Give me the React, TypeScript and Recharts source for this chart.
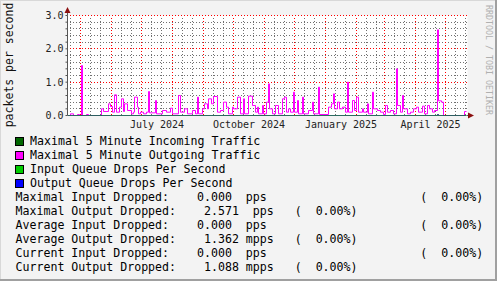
import { LineChart, Line, XAxis, YAxis, CartesianGrid } from 'recharts'

const mono = "'DejaVu Sans Mono', monospace"

// x axis is in days since 18 Apr 2024 (1 px per day on the original)
const monthStartDays = [13, 44, 74, 105, 136, 166, 197, 227, 258, 289, 317, 348, 378]
const minorDays = [3, 23, 33, 54, 64, 84, 94, 115, 125, 146, 156, 176, 186, 207, 217, 237, 247, 268, 278, 299, 309, 327, 337, 358, 368, 388, 398]
const labelDays = [89.5, 181.5, 273.5, 363]
const labelText = ['July 2024', 'October 2024', 'January 2025', 'April 2025']

const yTicks = [0, 0.2, 0.4, 0.6, 0.8, 1, 1.2, 1.4, 1.6, 1.8, 2, 2.2, 2.4, 2.6, 2.8, 3]
const yMinor = [0.2, 0.4, 0.6, 0.8, 1.2, 1.4, 1.6, 1.8, 2.2, 2.4, 2.6, 2.8]
const yMajor = [1, 2, 3]

// maximal 5 minute outgoing traffic, as step levels (day where a level starts, level)
const outDays = [
  0, 3, 6, 10, 12, 14, 15, 19, 21, 34, 36, 41, 43, 45, 47, 49, 52, 54, 56, 57,
  60, 64, 66, 67, 70, 71, 73, 76, 79, 81, 82, 88, 89, 95, 99, 103, 105, 111, 113, 117,
  120, 125, 128, 130, 131, 135, 137, 140, 141, 144, 146, 150, 153, 156, 159, 161, 165, 166, 170, 173,
  176, 177, 181, 185, 188, 190, 191, 195, 196, 199, 201, 202, 205, 208, 211, 215, 217, 219, 221, 223,
  226, 227, 230, 231, 235, 236, 241, 245, 246, 251, 252, 261, 264, 266, 267, 270, 272, 275, 278, 280,
  281, 285, 287, 289, 291, 295, 296, 300, 301, 305, 306, 310, 313, 316, 318, 320, 323, 326, 329, 330,
  333, 335, 336, 340, 343, 346, 349, 351, 355, 357, 360, 362, 365, 367, 370, 371, 374, 376, 397, 399
]
const outPps = [
  0, 0.05, 0, 0.03, 0, 1.5, 0, 0.03, 0, 0.2, 0.12, 0.35, 0.27, 0.1, 0.62, 0.1, 0.25, 0.5, 0.12, 0.35,
  0.15, 0.05, 0.1, 0.55, 0.25, 0.05, 0.1, 0.05, 0.1, 0.72, 0.08, 0.45, 0.05, 0.15, 0.1, 0.22, 0.05, 0.6, 0.1, 0.2,
  0.05, 0.15, 0.05, 0.55, 0.05, 0.2, 0.35, 0.2, 0.5, 0.35, 0.57, 0.1, 0.15, 0.4, 0.25, 0.05, 0.25, 0.2, 0.55, 0.05,
  0.5, 0.05, 0.58, 0.3, 0.1, 0.25, 0.05, 0.3, 0.05, 0.4, 0.95, 0.2, 0.05, 0.3, 0.05, 0.5, 0.55, 0.1, 0.2, 0.1,
  0.7, 0.1, 0.45, 0.05, 0.55, 0.05, 0.15, 0.4, 0.05, 0.85, 0.03, 0.25, 0.35, 0.65, 0.2, 0.4, 0.2, 0.25, 0.1, 1.0,
  0.1, 0.45, 0.15, 0.55, 0.1, 0.2, 0.1, 0.35, 0.05, 0.7, 0.2, 0.15, 0.1, 0.03, 0.3, 0.1, 0.15, 0.05, 1.4, 0.3,
  0.1, 0.6, 0.2, 0.05, 0.1, 0.2, 0.25, 0.1, 0.28, 0.05, 0.3, 0.2, 0.1, 0.15, 2.571, 0.44, 0.4, 0, 0.12, 0.12
]

// incoming traffic and queue drops sit on zero
const inDays = [0, 399]
const inPps = [0, 0]
const inDropDays = [0, 399]
const inDrops = [0, 0]
const outDropDays = [0, 370, 371, 399]
const outDrops = [0, 0.03, 0, 0]

const legendItems = [
  { color: '#006600', text: 'Maximal 5 Minute Incoming Traffic' },
  { color: '#ff00ff', text: 'Maximal 5 Minute Outgoing Traffic' },
  { color: '#00cc00', text: 'Input Queue Drops Per Second' },
  { color: '#0000ff', text: 'Output Queue Drops Per Second' }
]

const statLines = [
  'Maximal Input Dropped:    0.000  pps                      (  0.00%)',
  'Maximal Output Dropped:    2.571  pps   (  0.00%)',
  'Average Input Dropped:    0.000  pps                      (  0.00%)',
  'Average Output Dropped:    1.362 mpps   (  0.00%)',
  'Current Input Dropped:    0.000  pps                      (  0.00%)',
  'Current Output Dropped:    1.088 mpps   (  0.00%)'
]

const toPoints = (days: number[], vals: number[]) => days.map((day, i) => ({ day, v: vals[i] }))

export default function App() {
  return (
    <div
      style={{
        position: 'absolute',
        left: 0,
        top: 0,
        width: 497,
        height: 281,
        background: '#f3f3f3',
        boxShadow: 'inset -2px -2px 0 #a0a0a0, inset 1px 1px 0 #d8d8d8',
        fontFamily: mono,
        overflow: 'hidden'
      }}
    >
      <div style={{ position: 'absolute', left: 0, top: 0 }}>
        {/* half pixel offsets keep the 1px lines crisp */}
        <LineChart width={497} height={135} margin={{ top: 15.5, right: 29.5, bottom: 0, left: 37.5 }}>
          <CartesianGrid
            fill="#ffffff"
            stroke="#707070"
            strokeDasharray="1 2"
            strokeDashoffset={0.5}
            horizontalValues={yMinor}
            verticalValues={minorDays}
            shapeRendering="crispEdges"
          />
          <CartesianGrid
            stroke="#ff0000"
            strokeDasharray="1 2"
            strokeDashoffset={0.5}
            horizontalValues={yMajor}
            verticalValues={monthStartDays}
            shapeRendering="crispEdges"
          />
          <XAxis
            type="number"
            dataKey="day"
            domain={[0, 400]}
            ticks={labelDays}
            interval={0}
            tickFormatter={(d: number) => labelText[labelDays.indexOf(d)]}
            height={19.5}
            tickSize={0}
            tickMargin={5}
            axisLine={false}
            tick={{ fontSize: 10, fill: '#222', fontFamily: mono }}
            allowDataOverflow
          />
          <YAxis
            type="number"
            domain={[0, 3]}
            ticks={yTicks}
            interval={0}
            tickFormatter={(v: number) => (v % 1 === 0 ? v.toFixed(1) : '')}
            width={30}
            tickSize={2}
            tickMargin={2}
            axisLine={{ stroke: '#555' }}
            tickLine={{ stroke: '#555' }}
            tick={{ fontSize: 10, fill: '#222', fontFamily: mono }}
            allowDataOverflow
          />
          <Line
            data={toPoints(outDays, outPps)}
            dataKey="v"
            type="stepAfter"
            stroke="#ff00ff"
            strokeWidth={1}
            dot={false}
            isAnimationActive={false}
          />
          <Line
            data={toPoints(inDays, inPps)}
            dataKey="v"
            type="stepAfter"
            stroke="#006600"
            strokeWidth={1}
            dot={false}
            isAnimationActive={false}
          />
          <Line
            data={toPoints(inDropDays, inDrops)}
            dataKey="v"
            type="stepAfter"
            stroke="#00cc00"
            strokeWidth={1}
            dot={false}
            isAnimationActive={false}
          />
          <Line
            data={toPoints(outDropDays, outDrops)}
            dataKey="v"
            type="stepAfter"
            stroke="#1a1a80"
            strokeWidth={1}
            dot={false}
            isAnimationActive={false}
          />
        </LineChart>
      </div>

      <svg width={497} height={281} style={{ position: 'absolute', left: 0, top: 0, pointerEvents: 'none' }}>
        <line x1={67.5} y1={15.5} x2={67.5} y2={10} stroke="#555" />
        <line x1={467} y1={115.5} x2={470} y2={115.5} stroke="#555" />
        <polygon points="64.5,13 70.5,13 67.5,7" fill="#8b1010" />
        <polygon points="468,112.5 468,118.5 474,115.5" fill="#8b1010" />
        <text
          x={9}
          y={65}
          transform="rotate(-90, 9, 65)"
          textAnchor="middle"
          dominantBaseline="central"
          fontSize={11.5}
          fontFamily={mono}
          fill="#111"
        >
          packets per second
        </text>
        <text
          x={488.5}
          y={60}
          transform="rotate(90, 488.5, 60)"
          textAnchor="middle"
          dominantBaseline="central"
          fontSize={8.3}
          fontFamily={mono}
          fill="#b0b0b0"
        >
          RRDTOOL / TOBI OETIKER
        </text>
      </svg>

      {legendItems.map((item, i) => (
        <div
          key={item.text}
          style={{ position: 'absolute', left: 15, top: 134 + i * 14, height: 14, display: 'flex', alignItems: 'center' }}
        >
          <span
            style={{
              display: 'inline-block',
              width: 7,
              height: 7,
              background: item.color,
              border: '1px solid #000',
              marginRight: 6
            }}
          />
          <span style={{ fontSize: 11.6, lineHeight: '14px', whiteSpace: 'pre', color: '#000' }}>{item.text}</span>
        </div>
      ))}

      {statLines.map((line, i) => (
        <div
          key={line}
          style={{
            position: 'absolute',
            left: 15.5,
            top: 190 + i * 14,
            height: 14,
            fontSize: 11.6,
            lineHeight: '14px',
            whiteSpace: 'pre',
            color: '#000'
          }}
        >
          {line}
        </div>
      ))}
    </div>
  )
}
